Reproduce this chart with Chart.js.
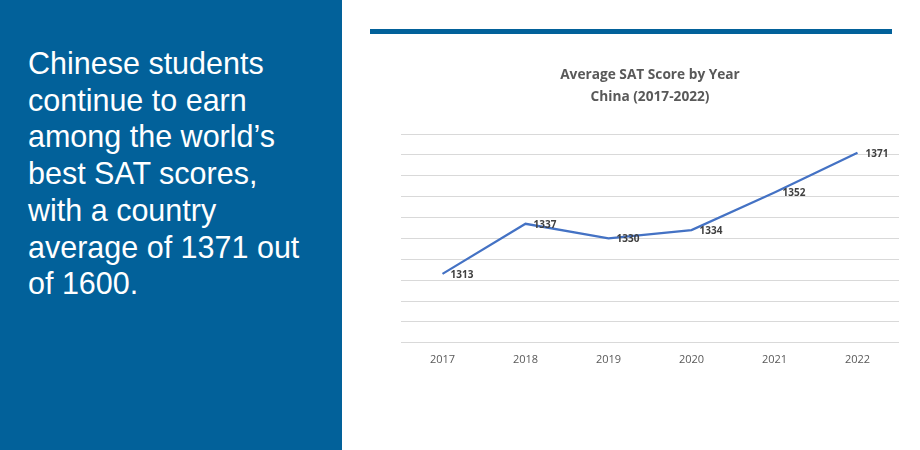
<!DOCTYPE html>
<html>
<head>
<meta charset="utf-8">
<script src="https://cdn.jsdelivr.net/npm/chart.js@4"></script>
<style>
  html, body { margin: 0; padding: 0; background: #ffffff; }
  body { width: 920px; height: 450px; position: relative; overflow: hidden; }
  #side { position: absolute; left: 0; top: 0; width: 342px; height: 450px; background: #02619a; }
  #side p { position: absolute; left: 28px; top: 45px; margin: 0; white-space: nowrap;
    font-family: "Liberation Sans", Arial, sans-serif; font-size: 30.5px; line-height: 36.7px; color: #ffffff; }
  #rule { position: absolute; left: 370px; top: 29px; width: 522px; height: 5px; background: #02619a; }
  #wrap { position: absolute; left: 353px; top: 0; width: 546px; height: 450px; }
</style>
</head>
<body>
<div id="side"><p>Chinese students<br>continue to earn<br>among the world’s<br>best SAT scores,<br>with a country<br>average of 1371 out<br>of 1600.</p></div>
<div id="rule"></div>
<div id="wrap"><canvas id="linechart"></canvas></div>
<script>
const years = ['2017','2018','2019','2020','2021','2022'];
const scores = [1313, 1337, 1330, 1334, 1352, 1371];
const titleLines = ['Average SAT Score by Year', 'China (2017-2022)'];

// value labels to the right of each point
const pointLabels = {
    id: 'pointLabels',
    afterDatasetsDraw(chart) {
        const c = chart.ctx;
        const meta = chart.getDatasetMeta(0);
        c.save();
        c.font = 'bold 10px "Open Sans"';
        c.fillStyle = '#404040';
        c.textAlign = 'left';
        c.textBaseline = 'middle';
        meta.data.forEach((pt, i) => {
            c.fillText(scores[i], pt.x + 8, pt.y + 1);
        });
        c.restore();
    }
};

const ctx1 = document.getElementById('linechart').getContext('2d');
const myLineChart = new Chart(ctx1,{
    type:'line',
    data:{
        labels: years,
        datasets:[{
            label: 'Average SAT Score',
            data: scores,
            borderColor: '#4472c4',
            borderWidth: 2.25,
            pointRadius: 0,
            tension: 0,
            fill: false
        }]
    },
    options:{
        responsive: true,
        maintainAspectRatio: false,
        animation: false,
        layout:{padding:{left:48, right:0, top:0, bottom:82}},
        plugins:{
            legend:{display:false},
            tooltip:{enabled:false},
            title:{display:true, text:titleLines, color:'#595959',
                font:{family:'Open Sans', size:13.7, weight:'bold', lineHeight:'22px'},
                padding:{top:64, bottom:26}}
        },
        scales:{
            x:{offset:true, grid:{display:false}, border:{display:false},
               ticks:{color:'#595959', padding:2, font:{family:'Open Sans', size:11}}},
            y:{min:1280, max:1380,
               grid:{color:'#d9d9d9', lineWidth:1, drawTicks:false},
               border:{display:false},
               ticks:{display:false, stepSize:10}}
        }
    },
    plugins:[pointLabels]
});
</script>
</body>
</html>
